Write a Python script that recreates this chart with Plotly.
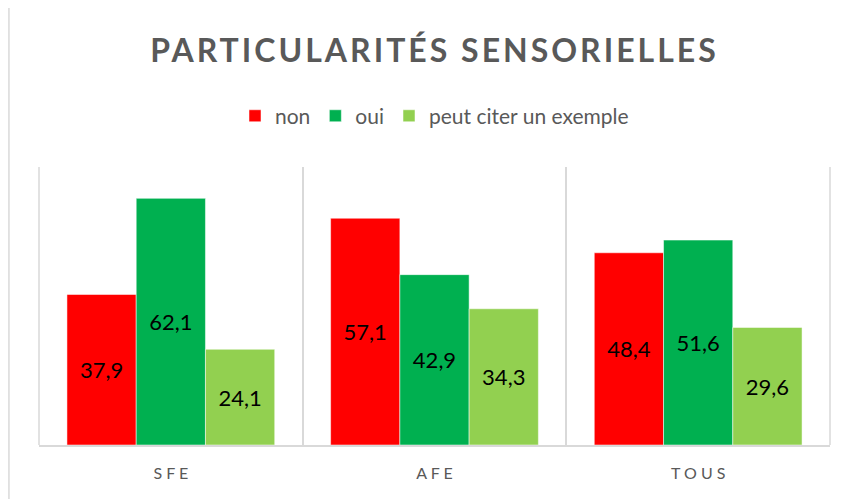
import plotly.graph_objects as go

categories = ["SFE", "AFE", "TOUS"]
tick_labels = ["S F E", "A F E", "T O U S"]
non = [37.9, 57.1, 48.4]
oui = [62.1, 42.9, 51.6]
exemple = [24.1, 34.3, 29.6]
series_names = ["non", "oui", "peut citer un exemple"]
colors = ["#FF0000", "#00B050", "#92D050"]

FONT = "Lato, 'Open Sans', sans-serif"
GREY = "#595959"
LINE = "#D9D9D9"

fig = go.Figure()
for name, vals, col in zip(series_names, [non, oui, exemple], colors):
    fig.add_trace(go.Bar(
        x=categories, y=vals, name=name,
        marker=dict(color=col, line=dict(color="rgba(255,255,255,0.5)", width=1)),
        texttemplate="%{y:.1f}", textposition="inside", insidetextanchor="middle",
        textangle=0, textfont=dict(family=FONT, size=22, color="#000000"),
        hoverinfo="skip",
    ))

fig.update_layout(
    width=839, height=491,
    margin=dict(l=31, r=17, t=159, b=54, autoexpand=False),
    paper_bgcolor="white", plot_bgcolor="white",
    separators=", ",
    barmode="group", bargap=0.212, bargroupgap=0,
    font=dict(family=FONT, color=GREY),
    title=dict(
        text='<span style="letter-spacing:3px"><b>PARTICULARITÉS SENSORIELLES</b></span>',
        x=0.5, xref="paper", xanchor="center", y=0.912, yanchor="middle",
        font=dict(family=FONT, size=32, color=GREY),
    ),
    legend=dict(
        orientation="h", x=0.5, xanchor="center", y=1.183, yanchor="middle",
        font=dict(family=FONT, size=21, color=GREY),
        itemwidth=30, tracegroupgap=0,
    ),
    xaxis=dict(
        type="category", tickson="boundaries", showgrid=True,
        gridcolor=LINE, gridwidth=1.5,
        showline=True, linecolor=LINE, linewidth=1.5,
        ticks="", ticklabelstandoff=13, automargin=False,
        tickvals=categories, ticktext=tick_labels,
        tickfont=dict(family=FONT, size=16, color=GREY),
        fixedrange=True,
    ),
    yaxis=dict(range=[0, 70], visible=False, showgrid=False, fixedrange=True),
    shapes=[
        # outer chart border (top and left)
        dict(type="line", xref="paper", yref="paper",
             x0=-0.038, x1=1.05, y0=1.576, y1=1.576,
             line=dict(color=LINE, width=1.5)),
        dict(type="line", xref="paper", yref="paper",
             x0=-0.038, x1=-0.038, y0=1.576, y1=-0.3,
             line=dict(color=LINE, width=1.5)),
        # outer category boundaries
        dict(type="line", xref="paper", yref="paper",
             x0=0, x1=0, y0=0, y1=1, line=dict(color=LINE, width=1.5)),
        dict(type="line", xref="paper", yref="paper",
             x0=1, x1=1, y0=0, y1=1, line=dict(color=LINE, width=1.5)),
    ],
)

fig.write_html("out.html")
